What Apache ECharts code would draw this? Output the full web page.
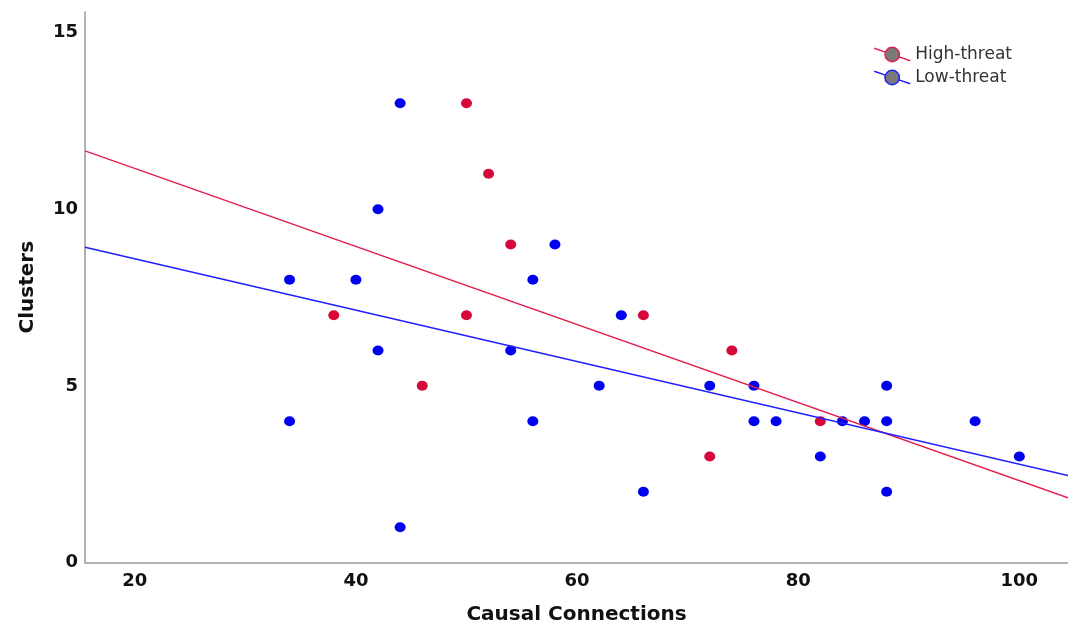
<!DOCTYPE html>
<html>
<head>
<meta charset="utf-8">
<script src="https://cdn.jsdelivr.net/npm/echarts@6/dist/echarts.min.js"></script>
<style>
  html, body { margin: 0; padding: 0; background: #ffffff; }
  #chart { width: 1068px; height: 634px; }
</style>
</head>
<body>
<div id="chart"></div>
<script>
// Scatter points: [causal connections, clusters]
const highThreat = [
  [38, 7], [46, 5], [50, 13], [50, 7], [52, 11],
  [54, 9], [66, 7], [72, 3], [74, 6], [82, 4]
];
const lowThreat = [
  [34, 8], [34, 4], [40, 8], [42, 10], [42, 6], [44, 13], [44, 1],
  [54, 6], [56, 8], [56, 4], [58, 9], [62, 5], [64, 7], [66, 2],
  [72, 5], [76, 5], [76, 4], [78, 4], [82, 3], [84, 4], [86, 4],
  [88, 5], [88, 4], [88, 2], [96, 4], [100, 3]
];
// Linear fit lines, given by their values at the two ends of the x range
const highFit = [[15.5, 11.65], [104.4, 1.83]];
const lowFit = [[15.5, 8.92], [104.4, 2.46]];

const xTicks = [20, 40, 60, 80, 100];
const yTicks = [0, 5, 10, 15];
const seriesNames = ['High-threat', 'Low-threat'];

const RED = '#d6083b', RED_LINE = '#e3204c';
const BLUE = '#0000f0', BLUE_LINE = '#1f1fff';

// Legend glyph: grey disc with a diagonal line through it
const legendIcon = 'path://M0,2L10.88,5.73M24.12,10.27L35,14M10.5,8A7,7,0,1,1,24.5,8A7,7,0,1,1,10.5,8Z';

const chart = echarts.init(document.getElementById('chart'), null, { renderer: 'canvas' });

const tickFont = { fontFamily: 'DejaVu Sans', fontWeight: 'bold', fontSize: 18, color: '#111111' };
const nameFont = { fontFamily: 'DejaVu Sans', fontWeight: 'bold', fontSize: 20, color: '#111111' };

chart.setOption({
  animation: false,
  backgroundColor: '#ffffff',
  grid: { left: 85, right: 0, top: 12, bottom: 71.5, outerBoundsMode: 'none' },
  legend: {
    right: 51,
    top: 41,
    orient: 'vertical',
    itemGap: 6,
    itemWidth: 36,
    itemHeight: 17,
    icon: legendIcon,
    textStyle: { fontFamily: 'DejaVu Sans', fontSize: 17, color: '#333333' },
    data: [
      { name: seriesNames[0], itemStyle: { color: '#7a7a7a', borderColor: RED_LINE, borderWidth: 1.5 } },
      { name: seriesNames[1], itemStyle: { color: '#7a7a7a', borderColor: BLUE_LINE, borderWidth: 1.5 } }
    ]
  },
  xAxis: {
    type: 'value',
    min: 15.5,
    max: 104.4,
    name: 'Causal Connections',
    nameLocation: 'middle',
    nameGap: 42,
    nameTextStyle: nameFont,
    axisLine: { show: true, lineStyle: { color: '#999999', width: 1.5 } },
    axisTick: { show: false },
    splitLine: { show: false },
    axisLabel: { customValues: xTicks, margin: 10, ...tickFont }
  },
  yAxis: {
    type: 'value',
    min: 0,
    max: 15.58,
    name: 'Clusters',
    nameLocation: 'middle',
    nameRotate: 90,
    nameGap: 47,
    nameTextStyle: nameFont,
    axisLine: { show: true, lineStyle: { color: '#999999', width: 1.5 } },
    axisTick: { show: false },
    splitLine: { show: false },
    axisLabel: { customValues: yTicks, margin: 7, ...tickFont }
  },
  series: [
    {
      name: seriesNames[0],
      type: 'scatter',
      data: highThreat,
      symbol: 'circle',
      symbolSize: [11, 10],
      itemStyle: { color: RED, opacity: 1 },
      z: 2
    },
    {
      name: seriesNames[1],
      type: 'scatter',
      data: lowThreat,
      symbol: 'circle',
      symbolSize: [11, 10],
      itemStyle: { color: BLUE, opacity: 1 },
      z: 2
    },
    {
      name: seriesNames[0],
      type: 'line',
      data: highFit,
      symbol: 'none',
      lineStyle: { color: RED_LINE, width: 1.5 },
      itemStyle: { color: RED_LINE },
      z: 3
    },
    {
      name: seriesNames[1],
      type: 'line',
      data: lowFit,
      symbol: 'none',
      lineStyle: { color: BLUE_LINE, width: 1.5 },
      itemStyle: { color: BLUE_LINE },
      z: 3
    }
  ]
});
</script>
</body>
</html>
